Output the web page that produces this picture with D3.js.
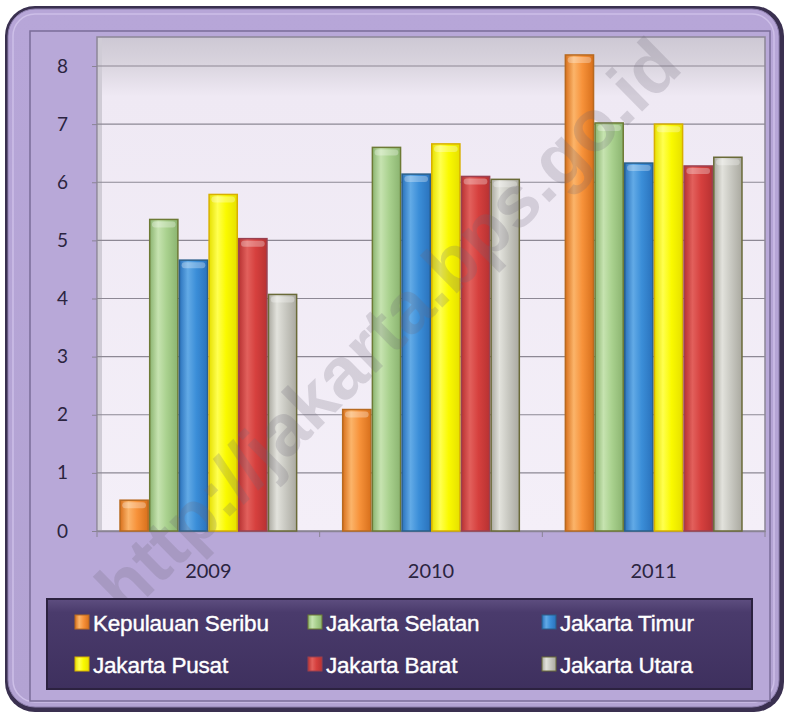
<!DOCTYPE html>
<html><head><meta charset="utf-8">
<script src="https://cdn.jsdelivr.net/npm/d3@7"></script>
<style>html,body{margin:0;padding:0;background:#fff;}svg{display:block;}</style>
</head><body>
<script>
const years = ["2009", "2010", "2011"];
const seriesNames = ["Kepulauan Seribu", "Jakarta Selatan", "Jakarta Timur", "Jakarta Pusat", "Jakarta Barat", "Jakarta Utara"];
const kepulauanSeribu = [0.53, 2.09, 8.19];
const jakartaSelatan  = [5.36, 6.60, 7.02];
const jakartaTimur    = [4.66, 6.14, 6.33];
const jakartaPusat    = [5.79, 6.66, 7.00];
const jakartaBarat    = [5.03, 6.10, 6.28];
const jakartaUtara    = [4.07, 6.05, 6.43];
const yTicks = [0, 1, 2, 3, 4, 5, 6, 7, 8];
const seriesValues = [kepulauanSeribu, jakartaSelatan, jakartaTimur, jakartaPusat, jakartaBarat, jakartaUtara];

const colors = [
  {base:"#f7923a", light:"#fbb46a", dark:"#d8701c", stroke:"#b86a20"},
  {base:"#a9d18e", light:"#c6e3b0", dark:"#8bb470", stroke:"#6d7a35"},
  {base:"#3b8ed8", light:"#62aae6", dark:"#2a72bc", stroke:"#2a5f8a"},
  {base:"#fafa00", light:"#ffff50", dark:"#e6e000", stroke:"#d8b000"},
  {base:"#d6403e", light:"#e2605c", dark:"#b83232", stroke:"#9a4050"},
  {base:"#c9c9c2", light:"#e2e2dc", dark:"#aaa9a0", stroke:"#6a6a38"}
];

const W = 789, H = 717;
const svg = d3.select("body").append("svg").attr("width", W).attr("height", H);
const defs = svg.append("defs");

const fg = defs.append("linearGradient").attr("id","frameG").attr("x1",0).attr("y1",0).attr("x2",0).attr("y2",1);
fg.append("stop").attr("offset",0).attr("stop-color","#b7a6d8");
fg.append("stop").attr("offset",1).attr("stop-color","#b3a3d3");
const pg = defs.append("linearGradient").attr("id","plotG").attr("x1",0).attr("y1",0).attr("x2",0).attr("y2",1);
pg.append("stop").attr("offset",0).attr("stop-color","#cdc8d4");
pg.append("stop").attr("offset",0.05).attr("stop-color","#d8d3dd");
pg.append("stop").attr("offset",0.12).attr("stop-color","#efe9f4");
pg.append("stop").attr("offset",1).attr("stop-color","#f4eff8");
const lg = defs.append("linearGradient").attr("id","legG").attr("x1",0).attr("y1",0).attr("x2",0).attr("y2",1);
lg.append("stop").attr("offset",0).attr("stop-color","#5e4e80");
lg.append("stop").attr("offset",0.15).attr("stop-color","#4a3b6c");
lg.append("stop").attr("offset",1).attr("stop-color","#3e305e");

colors.forEach((c,i)=>{
  const g = defs.append("linearGradient").attr("id","bar"+i).attr("x1",0).attr("y1",0).attr("x2",1).attr("y2",0);
  g.append("stop").attr("offset",0).attr("stop-color",c.dark);
  g.append("stop").attr("offset",0.3).attr("stop-color",c.light);
  g.append("stop").attr("offset",0.6).attr("stop-color",c.base);
  g.append("stop").attr("offset",1).attr("stop-color",c.dark);
});

svg.append("rect").attr("x",5).attr("y",6).attr("width",779).attr("height",706).attr("rx",30)
  .attr("fill","#3a3050");
svg.append("rect").attr("x",8).attr("y",9).attr("width",771).attr("height",698).attr("rx",27)
  .attr("fill","url(#frameG)").attr("stroke","#8f80b0").attr("stroke-width",1);
svg.append("rect").attr("x",13).attr("y",14).attr("width",761).attr("height",688).attr("rx",22)
  .attr("fill","none").attr("stroke","#cdbfe8").attr("stroke-width",1.5);
svg.append("rect").attr("x",30).attr("y",31).attr("width",740).attr("height",670)
  .attr("fill","#b8a8d8").attr("stroke","#7a6c98").attr("stroke-width",1.5);

const plotL = 97, plotR = 765, plotT = 37, plotB = 531;
svg.append("rect").attr("x",plotL).attr("y",plotT).attr("width",plotR-plotL).attr("height",plotB-plotT)
  .attr("fill","url(#plotG)").attr("stroke","#8c8696").attr("stroke-width",1.5);
svg.append("rect").attr("x",plotL+1).attr("y",plotT+1).attr("width",4).attr("height",plotB-plotT-2)
  .attr("fill","#d0ccd6");

const y = d3.scaleLinear().domain([0, 8]).range([plotB, 66]);
const x0 = d3.scaleBand().domain(years).range([plotL, plotR]).paddingInner(0.2).paddingOuter(0.1);
const x1 = d3.scaleBand().domain(d3.range(seriesNames.length)).range([0, x0.bandwidth()]).padding(0);

svg.append("g").selectAll("line").data(yTicks.filter(t=>t>0)).join("line")
  .attr("x1",plotL).attr("x2",plotR).attr("y1",d=>y(d)).attr("y2",d=>y(d))
  .attr("stroke","#8d8894").attr("stroke-width",1.2);

const yAxis = svg.append("g").attr("transform",`translate(${plotL},0)`)
  .call(d3.axisLeft(y).tickValues(yTicks).tickSize(5).tickPadding(24));
yAxis.select(".domain").remove();
yAxis.selectAll(".tick line").attr("stroke","#8a8494");
yAxis.selectAll("text").attr("fill","#2b2440").style("font-family","Lato, 'Open Sans', sans-serif").style("font-size","19px");

const xAxis = svg.append("g").attr("transform",`translate(0,${plotB})`)
  .call(d3.axisBottom(x0).tickSize(0).tickPadding(33));
xAxis.select(".domain").attr("stroke","#8a8494").attr("stroke-width",1.5);
xAxis.selectAll("text").attr("fill","#2b2440").style("font-family","Lato, 'Open Sans', sans-serif").style("font-size","20px");
svg.append("g").selectAll("line").data(d3.range(years.length+1)).join("line")
  .attr("x1",d=>plotL + d*(plotR-plotL)/years.length).attr("x2",d=>plotL + d*(plotR-plotL)/years.length)
  .attr("y1",plotB).attr("y2",plotB+6).attr("stroke","#8a8494");

const groups = svg.append("g").selectAll("g").data(years).join("g")
  .attr("transform",d=>`translate(${x0(d)},0)`);
groups.each(function(yr, yi){
  const g = d3.select(this);
  seriesValues.forEach((vals, si)=>{
    const bx = x1(si), bw = x1.bandwidth(), by = y(vals[yi]), bh = plotB - y(vals[yi]);
    g.append("rect").attr("x",bx+0.75).attr("y",by).attr("width",bw-1.5).attr("height",bh)
      .attr("fill","url(#bar"+si+")").attr("stroke",colors[si].stroke).attr("stroke-width",1.5);
    g.append("rect").attr("x",bx+3).attr("y",by+2).attr("width",bw-6).attr("height",Math.min(6,bh-3))
      .attr("rx",3).attr("fill","#ffffff").attr("opacity",0.3);
  });
});

// watermark
svg.append("text").attr("transform","translate(392,330) rotate(-44.5)")
  .attr("text-anchor","middle").attr("dominant-baseline","middle")
  .style("font-family","'Liberation Sans', Arial, sans-serif").style("font-weight","bold").style("font-size","73px")
  .attr("fill","#6e6878").attr("opacity",0.22).text("http://jakarta.bps.go.id");

// legend
svg.append("rect").attr("x",47).attr("y",599).attr("width",705).attr("height",90)
  .attr("fill","url(#legG)").attr("stroke","#2c2240").attr("stroke-width",2);
const colX = [75, 308, 542];
const rowY = [622, 664];
const leg = svg.append("g").selectAll("g").data(seriesNames).join("g")
  .attr("transform",(d,i)=>`translate(${colX[i%3]},${rowY[Math.floor(i/3)]})`);
leg.append("rect").attr("x",0).attr("y",-7).attr("width",14).attr("height",14)
  .attr("fill",(d,i)=>`url(#bar${i})`).attr("stroke",(d,i)=>colors[i].stroke).attr("stroke-width",1);
leg.append("text").attr("x",18).attr("y",1).attr("dominant-baseline","central")
  .attr("fill","#ffffff").attr("stroke","#ffffff").attr("stroke-width",0.4)
  .style("font-family","'Liberation Sans', Arial, sans-serif")
  .style("font-size","22.5px").style("letter-spacing","-0.2px").text(d=>d);
</script>
</body></html>
